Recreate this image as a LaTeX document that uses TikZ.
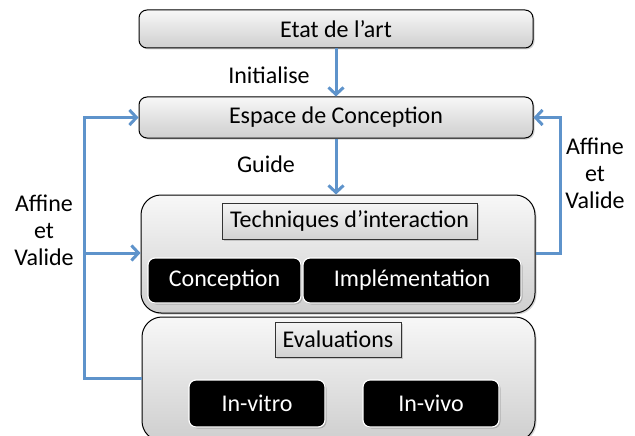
\documentclass[tikz,border=0pt]{standalone}
\usepackage{fontspec}
\setmainfont{Carlito}
\usetikzlibrary{arrows.meta,shadows,calc}
\definecolor{flowblue}{HTML}{5E93CB}
\tikzset{
  txt/.style={font=\fontsize{24}{27}\selectfont},
  graybox/.style={draw=black, line width=1pt, rounded corners=8pt, top color=gray!6, bottom color=gray!38,
    drop shadow={opacity=0.35, shadow xshift=1.5pt, shadow yshift=-1.5pt}, inner sep=0pt, txt},
  bigbox/.style={graybox, rounded corners=20pt},
  labelbox/.style={draw=black!80, line width=0.8pt, top color=gray!8, bottom color=gray!35,
    drop shadow={opacity=0.35, shadow xshift=1.5pt, shadow yshift=-1.5pt}, inner sep=0pt, txt},
  blackbox/.style={draw=white, line width=1.2pt, fill=black, rounded corners=7pt, text=white,
    drop shadow={opacity=0.45, shadow xshift=1.5pt, shadow yshift=-1.5pt}, inner sep=0pt, txt},
  flow/.style={draw=flowblue, line width=3pt, -{Straight Barb[length=7pt,width=15pt,line width=3pt]}},
}
\begin{document}
\begin{tikzpicture}[x=1pt,y=-1pt]
\useasboundingbox (0,0) rectangle (635,436);
\begin{scope}
\clip (0,0) rectangle (635,436);
% boxes
\node[graybox, minimum width=394pt, minimum height=38pt] (etat) at (336,29) {Etat de l’art};
\node[graybox, minimum width=394pt, minimum height=41pt] (espace) at (336,117.5) {Espace de Conception};
\node[bigbox, minimum width=394pt, minimum height=118pt] (tech) at (338,254) {};
\node[bigbox, minimum width=393pt, minimum height=124pt] (eval) at (338.5,379) {};
\node[labelbox, minimum width=255pt, minimum height=36pt] (techl) at (349.5,221) {Techniques d’interaction};
\node[blackbox, minimum width=153pt, minimum height=45pt] (conc) at (224.5,280.5) {Conception};
\node[blackbox, minimum width=218pt, minimum height=45pt] (impl) at (412,280.5) {Implémentation};
\node[labelbox, minimum width=126pt, minimum height=35pt] (evall) at (338,339.5) {Evaluations};
\node[blackbox, minimum width=136pt, minimum height=47pt] (vitro) at (257,403.5) {In-vitro};
\node[blackbox, minimum width=136pt, minimum height=47pt] (vivo) at (431,403.5) {In-vivo};
\end{scope}
% labels
\node[txt] (init) at (269,75) {Initialise};
\node[txt] (guide) at (266,164) {Guide};
\node[txt, align=center] (affl) at (44,230) {Affine\\et\\Valide};
\node[txt, align=center] (affr) at (595,173) {Affine\\et\\Valide};
% connectors
\draw[flow] (etat.south) -- (espace.north);
\draw[flow] (espace.south) -- (espace.south |- tech.north);
\coordinate (lb) at (84,378);
\coordinate (lm) at (84,253);
\coordinate (rb) at (560,253);
\draw[flow] (eval.west |- lb) -- (lb) |- (espace.west);
\draw[flow] (lm) -- (tech.west |- lm);
\draw[flow] (tech.east |- rb) -- (rb) |- (espace.east);
\end{tikzpicture}
\end{document}
